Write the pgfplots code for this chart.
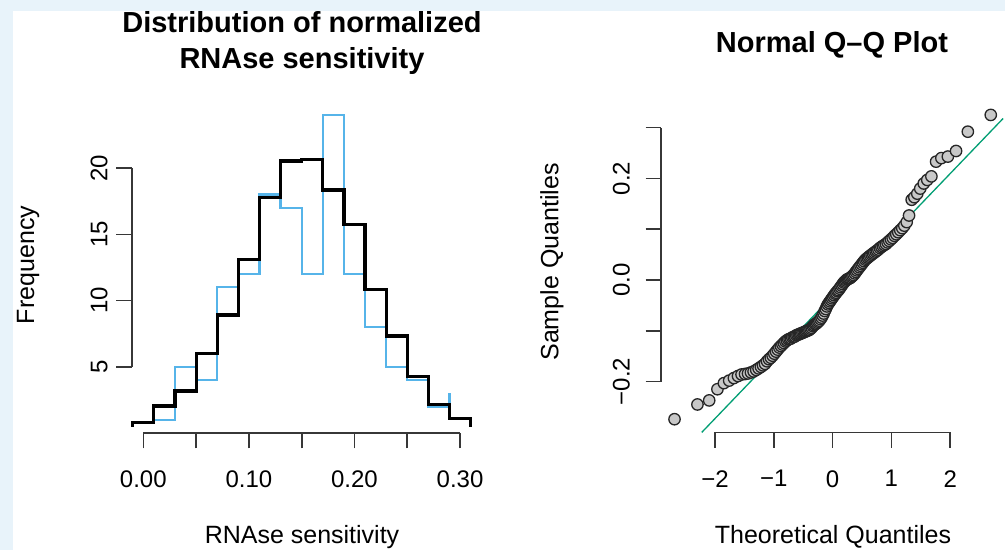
\documentclass[border=0pt]{standalone}
\usepackage{pgfplots}
\pgfplotsset{compat=1.18}
\usepackage{fontspec}
\setmainfont{Liberation Sans}
\definecolor{bgblue}{RGB}{232,243,250}
\definecolor{histblue}{RGB}{86,180,233}
\definecolor{qqgreen}{RGB}{0,158,115}
\definecolor{axgray}{RGB}{55,55,55}
\definecolor{ptgray}{RGB}{200,200,200}
\begin{document}
\begin{tikzpicture}[x=1pt,y=1pt]
\fill[bgblue] (0,0) rectangle (1005,550);
\fill[white] (13,0) rectangle (1005,539);
\useasboundingbox (0,0) rectangle (1005,550);

% titles and axis labels
\node[anchor=base, font=\fontsize{29}{34}\selectfont\bfseries] at (302,517) {Distribution of normalized};
\node[anchor=base, font=\fontsize{29}{34}\selectfont\bfseries] at (302,481) {RNAse sensitivity};
\node[anchor=base, font=\fontsize{29}{34}\selectfont\bfseries] at (832,497.5) {Normal Q--Q Plot};
\node[anchor=base, font=\fontsize{25}{30}\selectfont] at (302,7) {RNAse sensitivity};
\node[anchor=base, font=\fontsize{25}{30}\selectfont] at (833,7) {Theoretical Quantiles};
\node[rotate=90, font=\fontsize{25}{30}\selectfont] at (28,285) {Frequency};
\node[rotate=90, font=\fontsize{25}{30}\selectfont] at (552,288) {Sample Quantiles};

% ---------------- histogram ----------------
\begin{axis}[
  at={(131.7pt,117.1pt)}, anchor=south west, scale only axis,
  width=349.5pt, height=331pt,
  xmin=-0.011, xmax=0.32, ymin=0, ymax=25,
  axis line style={draw=none},
  xtick={0,0.05,0.1,0.15,0.2,0.25,0.3},
  xticklabels={0.00,,0.10,,0.20,,0.30},
  ytick={5,10,15,20}, yticklabels={5,10,15,20},
  xtick pos=bottom, ytick pos=left,
  tick align=outside, major tick length=15.5pt,
  tick style={axgray, line width=1.6pt},
  ticklabel style={font=\fontsize{24}{24}\selectfont},
  xticklabel style={yshift=-19pt},
  yticklabel style={rotate=90, anchor=south, yshift=5pt},
  clip=false,
]
\draw[axgray, line width=1.6pt] (axis cs:0,0) -- (axis cs:0.3,0);
\draw[axgray, line width=1.6pt] (axis cs:-0.011,5) -- (axis cs:-0.011,20);
\addplot[histblue, line width=2.2pt] coordinates {
 (0.01,1) (0.03,1) (0.03,5) (0.05,5) (0.05,4) (0.07,4) (0.07,11) (0.09,11)
 (0.09,12) (0.11,12) (0.11,18) (0.13,18) (0.13,17) (0.15,17) (0.15,12) (0.17,12)
 (0.17,24) (0.19,24) (0.19,12) (0.21,12) (0.21,8) (0.23,8) (0.23,5) (0.25,5)
 (0.25,4) (0.27,4) (0.27,2) (0.29,2) (0.29,3)
};
\addplot[black, line width=3.2pt] coordinates {
 (-0.01,0.45) (-0.01,0.77) (0.01,0.77) (0.01,2.03) (0.03,2.03) (0.03,3.16) (0.05,3.16)
 (0.05,6.01) (0.07,6.01) (0.07,8.9) (0.09,8.9) (0.09,13.1) (0.11,13.1)
 (0.11,17.77) (0.13,17.77) (0.13,20.54) (0.15,20.54) (0.15,20.65) (0.17,20.65)
 (0.17,18.35) (0.19,18.35) (0.19,15.75) (0.21,15.75) (0.21,10.84) (0.23,10.84)
 (0.23,7.32) (0.25,7.32) (0.25,4.25) (0.27,4.25) (0.27,2.16) (0.29,2.16)
 (0.29,1.1) (0.31,1.1) (0.31,0.45)
};
\end{axis}

% ---------------- Q-Q plot ----------------
\begin{axis}[
  at={(661pt,117.6pt)}, anchor=south west, scale only axis,
  width=342.1pt, height=325.1pt,
  xmin=-2.92, xmax=2.90, ymin=-0.30, ymax=0.34,
  axis line style={draw=none},
  xtick={-2,-1,0,1,2},
  xticklabels={−2,−1,0,1,2},
  ytick={-0.2,-0.1,0,0.1,0.2,0.3},
  yticklabels={−0.2,,0.0,,0.2,},
  xtick pos=bottom, ytick pos=left,
  tick align=outside, major tick length=15.5pt,
  tick style={axgray, line width=1.6pt},
  ticklabel style={font=\fontsize{24}{24}\selectfont},
  xticklabel style={yshift=-19pt},
  yticklabel style={rotate=90, anchor=south, yshift=12pt},
  clip=false,
]
\draw[axgray, line width=1.6pt] (axis cs:-2,-0.30) -- (axis cs:2,-0.30);
\draw[axgray, line width=1.6pt] (axis cs:-2.92,-0.2) -- (axis cs:-2.92,0.3);
\addplot[only marks, mark=*, mark size=5.7pt,
  mark options={fill=ptgray, draw=black!85, line width=1.3pt}] coordinates {
(-2.69,-0.274) (-2.30,-0.245) (-2.10,-0.237) (-1.96,-0.215) (-1.85,-0.203)
(-1.76,-0.198) (-1.68,-0.193) (-1.61,-0.189) (-1.55,-0.186) (-1.49,-0.185)
(-1.44,-0.184) (-1.39,-0.182) (-1.345,-0.180) (-1.30,-0.177) (-1.26,-0.174)
(-1.22,-0.171) (-1.185,-0.168) (-1.15,-0.165) (-1.116,-0.160) (-1.083,-0.156)
(-1.052,-0.153) (-1.021,-0.149) (-0.992,-0.145) (-0.963,-0.141) (-0.935,-0.137)
(-0.907,-0.133) (-0.880,-0.130) (-0.854,-0.127) (-0.829,-0.124) (-0.804,-0.121)
(-0.779,-0.119) (-0.755,-0.117) (-0.732,-0.116) (-0.708,-0.115) (-0.686,-0.113)
(-0.663,-0.112) (-0.641,-0.111) (-0.619,-0.109) (-0.598,-0.108) (-0.577,-0.107)
(-0.556,-0.106) (-0.535,-0.105) (-0.514,-0.104) (-0.494,-0.103) (-0.474,-0.102)
(-0.454,-0.101) (-0.434,-0.100) (-0.414,-0.099) (-0.395,-0.098) (-0.376,-0.096)
(-0.356,-0.094) (-0.337,-0.091) (-0.319,-0.089) (-0.300,-0.087) (-0.281,-0.086)
(-0.263,-0.084) (-0.244,-0.082) (-0.226,-0.080) (-0.207,-0.077) (-0.189,-0.074)
(-0.171,-0.070) (-0.153,-0.066) (-0.135,-0.061) (-0.117,-0.057) (-0.099,-0.052)
(-0.081,-0.048) (-0.063,-0.045) (-0.045,-0.042) (-0.027,-0.039) (-0.009,-0.036)
(0.009,-0.033) (0.027,-0.030) (0.045,-0.027) (0.063,-0.025) (0.081,-0.022)
(0.099,-0.020) (0.117,-0.017) (0.135,-0.014) (0.153,-0.011) (0.171,-0.008)
(0.189,-0.005) (0.207,-0.003) (0.226,-0.001) (0.244,0.001) (0.263,0.002)
(0.281,0.003) (0.300,0.004) (0.319,0.006) (0.337,0.008) (0.356,0.010)
(0.376,0.013) (0.395,0.016) (0.414,0.019) (0.434,0.022) (0.454,0.025)
(0.474,0.028) (0.494,0.031) (0.514,0.034) (0.535,0.037) (0.556,0.040)
(0.577,0.042) (0.598,0.044) (0.619,0.046) (0.641,0.048) (0.663,0.050)
(0.686,0.052) (0.708,0.054) (0.732,0.056) (0.755,0.058) (0.779,0.060)
(0.804,0.063) (0.829,0.065) (0.854,0.067) (0.880,0.069) (0.907,0.071)
(0.935,0.074) (0.963,0.077) (0.992,0.080) (1.021,0.083) (1.052,0.087)
(1.083,0.090) (1.116,0.094) (1.150,0.098) (1.185,0.102) (1.220,0.107)
(1.260,0.114) (1.300,0.127) (1.345,0.158) (1.390,0.163) (1.440,0.170)
(1.490,0.180) (1.550,0.190) (1.610,0.197) (1.680,0.204) (1.760,0.233)
(1.850,0.240) (1.960,0.243) (2.100,0.254) (2.300,0.292) (2.690,0.325)
};
\addplot[qqgreen, line width=1.3pt] coordinates {(-2.227,-0.30) (2.90,0.318)};
\end{axis}
\end{tikzpicture}
\end{document}
